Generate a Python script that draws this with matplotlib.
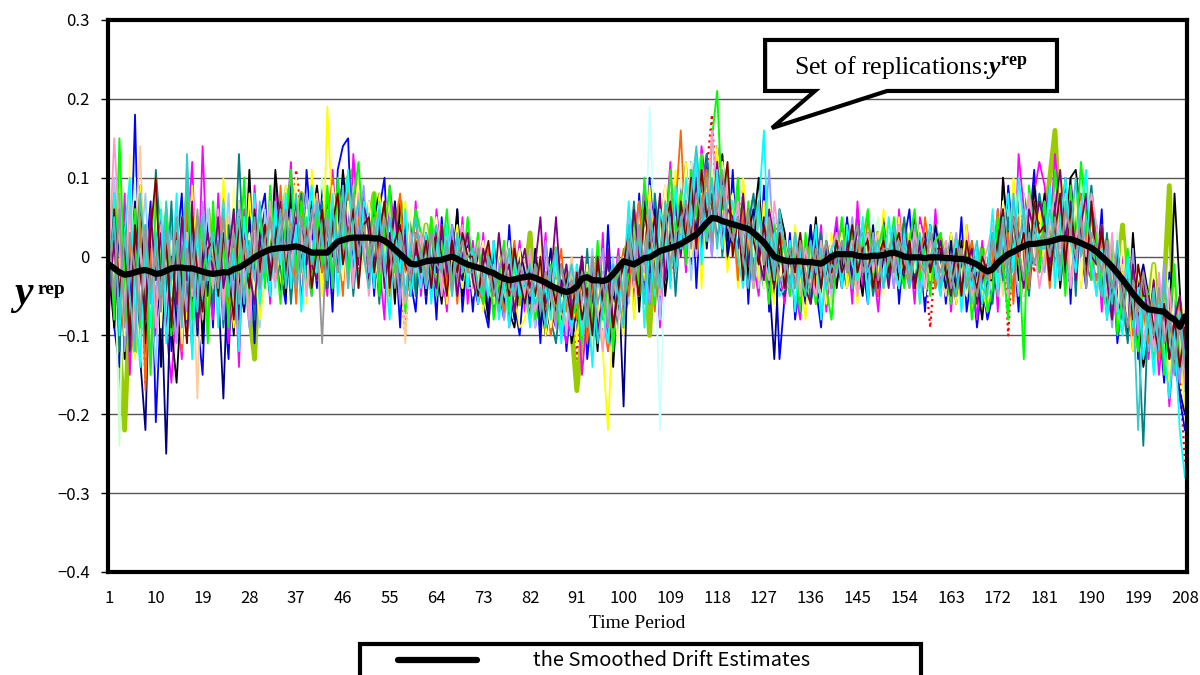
import numpy as np
import matplotlib.pyplot as plt
from matplotlib.lines import Line2D
from matplotlib.patches import Polygon, Rectangle

plt.rcParams['font.family'] = ['Noto Sans CJK JP', 'DejaVu Sans']
plt.rcParams['mathtext.fontset'] = 'custom'
plt.rcParams['mathtext.rm'] = 'Liberation Serif'
plt.rcParams['mathtext.it'] = 'Liberation Serif:italic'
plt.rcParams['mathtext.bf'] = 'Liberation Serif:bold'
plt.rcParams['mathtext.bfit'] = 'Liberation Serif:italic:bold'

periods = np.arange(1, 209)
tick_periods = np.arange(1, 209, 9)

# smoothed drift estimates (x 1/1000)
drift_milli = [
    -10, -15, -20, -23, -22, -20, -18, -17, -19, -22,
    -21, -18, -15, -14, -14, -15, -15, -17, -19, -21,
    -22, -21, -20, -20, -16, -14, -10, -6, -1, 3,
    6, 9, 10, 11, 11, 12, 13, 11, 8, 5,
    5, 5, 5, 12, 19, 21, 23, 24, 24, 24,
    24, 23, 23, 20, 15, 9, 3, -3, -9, -10,
    -8, -6, -5, -5, -4, -2, 0, -3, -7, -10,
    -12, -14, -16, -19, -21, -25, -28, -30, -29, -27,
    -26, -25, -27, -30, -33, -37, -40, -43, -45, -43,
    -38, -28, -26, -30, -30, -31, -29, -22, -14, -6,
    -8, -10, -6, -2, -1, 3, 7, 9, 11, 13,
    16, 20, 24, 28, 35, 43, 49, 48, 45, 43,
    41, 39, 37, 35, 30, 24, 18, 9, 0, -3,
    -5, -6, -6, -6, -7, -7, -8, -9, -5, 0,
    3, 3, 3, 3, 1, 0, 0, 1, 1, 2,
    4, 5, 3, 0, -1, -1, -1, -2, -1, -1,
    -1, -2, -2, -3, -3, -4, -7, -10, -15, -19,
    -16, -8, -2, 3, 6, 10, 13, 16, 16, 17,
    18, 19, 21, 23, 23, 22, 20, 17, 14, 11,
    6, 0, -6, -13, -21, -29, -38, -47, -55, -62,
    -67, -68, -69, -70, -76, -80, -89, -76,
]

# replications y_rep (x 1/100), one string per series, periods 1..208
rep_blue = """
3 -9 -14 6 -5 18 -10 -1 7 -21  -6 5 -12 1 8 -10 4 -8 -15 5  -9 6 -5 -13 4 7 -7 3 -11 5  8 -4 10 -2 -6 9 2 -5 11 3  -4 9 4 -7 11 14 15 -3 7 -1
7 -5 6 10 -4 2 -9 5 -3 -7  3 -6 2 -8 5 -3 -4 6 -7 1  -7 2 -6 -9 1 -4 -8 4 -6 -10  -2 -8 -1 -11 2 -7 -9 -1 -12 -5  -10 0 -13 -6 -1 -11 4 -8 0 -9
6 -6 8 -4 10 2 -8 5 9 -2  9 0 12 -4 8 13 1 14 9 -1  11 -3 8 -6 6 -4 9 -7 3 -13  -5 3 -8 -2 -6 4 -4 -9 2 -5  4 -4 5 -3 6 -1 -6 3 -5 5
-3 4 -6 2 6 -4 1 -7 4 -2  2 -6 1 -4 5 -7 -2 -9 -3 -8  -5 6 -4 9 2 -7 8 3 11 -1  7 -3 9 3 10 -6 8 1 -4 5  -2 6 -8 1 -11 -5 -9 2 -13 -7  -5 -13 -8 -16 -2 -12 -18 -22
"""
rep_magenta = """
-7 5 -11 8 -15 -1 7 -12 3 -10  5 -9 -16 -5 -13 2 12 -7 14 -3  -8 8 -3 -11 2 -14 6 -5 9 -2  5 -6 9 -2 3 12 -4 7 -1 -5  9 -1 -5 11 2 7 -4 13 4 8
-3 6 -1 -8 9 3 -6 2 -4 7  -5 2 -4 6 -1 -7 3 -3 5 -6  2 -6 3 -8 -2 -7 0 -9 -4 2  -7 -1 -9 -4 3 -10 -3 -8 -11 -5  -3 -15 -7 0 -10 3 -12 -5 1 -8
5 -7 2 9 -4 7 -9 3 12 0  7 -2 11 5 14 8 0 12 3 9  2 8 -3 6 -1 -5 7 -4 4 -2  -6 1 -4 -8 2 -5 -2 4 -7 0  5 -3 2 -6 7 -4 3 -1 -7 2
3 -4 6 -2 1 -6 5 2 -4 6  -4 2 -7 1 -5 4 -2 -8 2 -6  3 -7 10 1 -5 13 6 -3 8 12  9 2 13 6 -4 10 3 8 -1 -3  4 -7 2 -4 -9 0 -6 -12 -8 -3  -13 -5 -15 -8 -19 -10 -16 -7
"""
rep_yellow = """
7 -4 12 -9 4 -13 9 0 -7 10  -5 7 -2 -11 5 -8 9 -4 2 -9  5 -6 10 -2 -9 4 -4 8 -1 -8  -3 7 2 -5 9 0 -4 6 -6 11  3 -5 19 5 -1 8 -4 4 10 0
6 -3 8 2 -6 4 -2 7 -5 2  2 -5 5 -3 3 -6 0 4 -4 2  -4 2 -7 1 -6 3 -8 -2 -5 -9  -8 -2 -6 1 -10 -4 -1 -9 -6 -2  -11 -3 -9 0 -6 -12 -22 -7 -1 -10
3 -8 6 -3 9 0 -5 7 2 11  3 12 0 8 -4 10 4 14 6 -2  6 -4 10 1 4 -3 7 -1 -6 3  1 -5 4 -3 -8 2 -4 1 -6 3  -2 4 -4 2 -6 5 -1 3 -3 6
2 -3 5 -4 3 -1 -6 2 -3 4  1 -4 3 -6 -2 4 -7 0 -4 -7  2 -5 7 -1 10 4 -4 8 1 6  -2 7 2 11 5 -1 9 -4 6 1  -4 3 -7 2 -9 -2 -5 -12 -3 -9  -6 -13 -4 -11 -16 -8 -12 -19
"""
rep_cyan = """
-4 8 -10 3 10 -6 -14 4 -9 2  6 -11 -3 8 -8 2 -13 4 -6 -1  3 -9 7 -5 1 -12 5 -2 8 -6  2 -5 6 -1 8 -4 4 -7 3 9  -2 6 -1 8 -5 3 11 1 -4 7
5 -4 7 -1 -8 3 -2 6 -5 0  -4 3 -6 2 -2 4 -5 1 3 -4  1 -6 -1 -5 2 -8 -3 -9 0 -5  -3 -9 -1 -6 -4 -8 1 -11 -4 -9  -1 -10 -4 -14 -2 -7 -11 -1 -6 -3
7 -3 4 -9 2 -5 6 3 -4 9  1 10 4 13 -1 8 3 11 1 7  7 0 -4 4 -3 6 16 -2 3 -5  -4 2 -7 1 -5 -2 4 -8 -1 1  2 -4 4 -1 -3 5 -6 2 0 -4
5 -1 -4 3 -3 2 -6 0 4 -2  -5 1 -4 2 -7 -1 -4 1 -6 -2  6 -4 3 8 -2 10 4 -1 7 2  1 9 -4 4 10 2 -2 6 11 -1  -5 1 -8 -3 -6 -10 0 -9 -4 -13  -7 -15 -6 -12 -18 -9 -22 -28
"""
rep_green = """
4 -8 15 -3 -12 6 -9 2 -15 8  -1 6 -10 3 -5 11 -8 0 5 -11  7 -4 2 -9 6 -2 10 -5 0 6  -4 9 1 -6 4 11 -2 7 3 -5  6 -1 9 -4 10 4 -2 7 12 2
0 8 -5 3 9 -2 4 -7 1 6  3 -3 5 -5 0 6 -4 2 -2 5  -2 3 -6 0 -8 -3 2 -7 -1 -5  -5 1 -8 -3 -9 -1 -6 -10 -4 -8  -6 -11 -2 -9 2 -8 -4 -12 0 -6
-2 6 -5 10 2 -6 7 1 11 3  8 -1 11 5 13 2 15 21 6 11  3 10 -2 7 -4 6 0 -6 4 -1  2 -5 1 -7 3 -2 -6 2 -4 -8  0 5 -2 4 -4 2 6 -3 1 4
-2 5 -1 -4 2 6 -3 1 -5 2  3 -2 -6 2 -4 1 -8 -3 1 -7  -4 5 -1 -8 6 1 -13 9 3 -2  7 -1 11 4 -5 9 1 12 5 -3  3 -4 -7 2 -10 -5 1 -8 -12 -3  -5 -13 -3 -15 -8 -1 -14 -9
"""
rep_black = """
-2 -9 6 -13 2 -6 9 -11 -3 7  -14 3 -9 -16 -4 2 -7 5 -11 1  3 -6 8 -2 -10 4 -4 11 -5 2  6 -2 11 3 -5 8 -1 6 -4 4  9 2 -4 7 1 11 4 -3 8 2
-4 5 8 -2 3 -6 7 1 -5 3  2 -4 5 -1 -6 3 -2 6 -5 0  -5 1 -3 -8 2 -5 -1 -7 -9 -3  -3 -8 1 -5 -10 -6 0 -9 -2 -11  -7 0 -9 -4 -12 -2 -5 -14 -3 -9
-4 5 -7 3 8 -2 6 -5 1 7  2 11 -1 8 0 12 3 9 13 2  7 0 8 -3 4 10 -2 3 -5 6  3 -4 2 -7 0 -2 5 -5 -2 2  -4 2 -2 4 -1 -5 3 -2 2 -4
0 4 -4 2 -2 5 0 -4 2 -2  2 -4 0 -6 2 -5 -1 -3 -8 -1  -1 -5 10 2 7 -3 5 0 9 3  8 0 6 -4 3 10 11 5 -1 7  -2 4 -5 1 -8 -2 -10 3 -6 -14  -10 -3 -12 -6 -9 8 -4 -17
"""
rep_olive = """
2 -5 -11 -22 -6 -12 6 -7 1 -4  5 -7 3 -9 -1 7 -5 2 -4 6  -2 5 -4 -7 3 -4 2 -7 -13 1  4 -2 6 1 7 9 2 8 4 -1  6 2 8 3 7 0 10 11 5 2
4 8 0 5 -3 2 7 -1 4 -4  0 4 -3 3 -5 1 -1 3 -4 2  -1 -5 1 -3 -6 -1 -5 1 -3 -6  -3 3 -6 -1 -5 -7 1 -6 -2 -9  -17 -10 -4 -7 0 -6 -2 -9 -4 0
2 -4 5 0 -10 3 -2 6 1 5  7 1 9 4 11 3 8 12 6 1  6 0 5 -2 7 2 -3 5 -1 3  -2 1 -4 2 -5 0 -3 -4 1 -2  2 -2 4 -1 -4 2 0 -3 3 -1
0 2 -3 4 -1 -3 2 -4 1 3  -2 1 -5 2 -3 0 -5 -2 1 -4  2 -4 5 -1 6 3 -3 7 4 1  5 10 16 3 8 1 7 0 5 4  0 -4 2 -6 -2 4 -5 -1 -8 -3  -6 -1 -9 -4 9 -11 -6 -13
"""
rep_teal = """
-5 6 -12 1 8 -3 -10 4 -7 11  2 -5 7 -9 3 -2 -12 5 -3 0  -6 2 -9 4 -3 13 -2 6 -8 3  0 -5 7 -2 4 -6 3 8 -3 6  1 7 -4 4 9 -1 5 -5 3 8
-2 3 -6 5 -1 7 -4 1 5 -5  3 -2 2 -5 3 -1 -4 4 -2 -4  -3 2 -5 -1 -7 1 -3 -8 -5 0  -6 -1 -5 -9 -2 -8 -11 -4 -1 -7  -4 -9 1 -10 -2 -6 0 -11 -7 -2
-1 7 -4 4 -6 8 1 -3 6 -5  5 12 1 9 3 13 6 10 0 8  2 7 -3 4 8 0 -4 6 -1 4  -5 -1 2 -4 1 -6 -2 3 -5 0  3 -1 -4 2 4 -2 1 -5 0 3
-3 2 -1 5 -2 3 -2 0 3 -4  0 -2 3 -4 1 -5 2 -3 -6 -3  -6 2 -3 5 -2 7 0 -5 3 8  4 9 -2 5 1 8 -5 7 2 9  1 -5 3 -8 -1 -6 -11 -2 -9 -24  -6 -12 -3 -14 -9 -4 -15 -10
"""
rep_orange = """
0 8 -5 -10 3 -7 5 -17 1 -6  -3 5 -9 2 -12 7 -1 -6 3 -10  5 -2 7 -6 1 -10 3 -4 6 -5  2 6 -3 9 -1 4 -6 7 2 -2  7 -2 4 10 2 -5 8 1 5 -1
5 -3 2 7 -5 3 8 -2 0 5  -2 3 -5 1 4 -4 2 -6 3 -2  1 -4 -6 1 -5 -2 -7 -3 2 -5  -4 -8 -1 -6 -2 -10 -4 1 -7 -3  -8 -2 -11 -4 0 -7 -12 -2 -6 1
-5 3 7 -2 5 -7 3 9 -3 6  16 2 9 0 7 11 2 8 12 4  5 -3 6 1 -4 7 -1 4 -3 3  1 -4 3 -5 -1 2 -6 0 -3 -2  -2 4 -1 -4 2 -2 5 0 -5 2
2 -2 4 -1 -4 2 -3 5 0 -4  3 -1 -2 -5 1 -4 2 -6 -2 -5  0 6 -2 3 -6 5 1 -4 7 0  3 -4 6 9 1 5 -2 8 2 7  -3 2 -5 -8 1 -6 -2 -10 -4 -7  -11 -4 -13 -7 -9 -15 -5 -12
"""
rep_lightgreen = """
-6 4 -24 7 -2 10 -9 4 -13 -4  7 -4 -10 5 -7 1 8 -8 2 -5  1 6 -5 3 -8 2 -4 8 -2 5  3 -2 6 -5 2 8 -1 -4 5 9  4 10 1 6 -4 8 2 -1 9 4
1 6 -3 5 -1 -5 3 7 -4 2  -3 1 3 -2 -5 2 4 -4 0 3  1 -4 2 -6 -2 -5 -3 2 -7 -1  -1 -7 -3 -8 -4 1 -9 -2 -6 -5  -6 -1 -8 -3 -10 -4 0 -9 -3 -5
3 -4 6 1 -3 8 4 -4 9 2  10 4 12 1 8 3 11 5 13 7  0 6 2 -3 5 -1 7 2 -4 4  -2 2 -5 1 -4 -6 1 -2 3 -4  2 -4 0 4 -2 1 -4 2 5 -2
0 4 -2 2 -4 1 4 -2 2 -1  -3 1 2 -2 -5 1 -4 -1 -5 0  3 -2 6 1 -4 4 8 -2 3 6  4 -1 9 2 6 -3 7 2 10 0  2 -4 -1 -6 3 -5 -9 -3 -7 -1  -10 -5 -12 -8 -3 -14 -10 -16
"""
rep_lightyellow = """
9 -2 4 -10 13 -5 -12 3 -8 6  -9 2 -5 7 -11 3 -1 -7 5 -3  2 -8 5 -3 9 -6 0 3 -5 7  -3 5 0 7 -2 3 10 -5 6 1  0 6 -2 9 4 -3 7 2 10 -2
7 1 -4 5 8 -2 3 -5 6 0  2 -4 1 5 -2 3 -5 2 -2 1  -5 -1 2 -4 -6 1 -2 -5 -3 1  -6 -2 -8 2 -5 -9 -3 -6 -1 -8  -2 -8 -1 -12 -4 -9 -2 -6 -11 0
-2 5 -5 3 7 -4 2 9 -1 5  4 11 0 7 13 2 9 1 12 6  8 2 -3 6 0 4 -4 7 1 -3  2 -2 -5 2 -1 -4 1 -6 -1 2  -1 3 -2 2 -4 4 -1 -2 2 -5
3 -1 -4 2 0 -2 4 -5 1 2  -2 2 -4 1 -2 -5 0 -1 -4 -6  4 -4 7 -2 3 9 -5 6 0 4  1 6 -4 9 4 -1 7 -3 11 3  -2 4 -4 1 -7 2 -8 -5 -1 -6  -8 -1 -11 -6 -14 -4 -9 -13
"""
rep_paleblue = """
-4 10 1 -8 5 -11 0 8 -5 -14  3 -8 6 -4 -10 2 5 -9 -1 6  -5 3 -2 8 -7 1 5 -4 2 -9  6 0 -4 5 9 -2 3 6 -5 2  -3 5 8 -1 6 3 -2 9 1 4
3 -3 5 -1 -6 6 1 -4 3 -2  0 2 -4 3 -3 -5 2 -1 -4 3  -2 -5 1 -4 2 -7 -3 0 -6 -2  -2 -5 -9 0 -6 -3 -8 -4 -10 -1  -4 -11 -5 1 -9 -2 -7 0 -10 -3
-6 2 -4 6 -2 5 -8 3 0 6  1 8 -3 6 10 2 7 12 3 9  6 -3 4 1 7 -4 3 -1 5 -2  -4 1 -6 2 -2 -5 1 -3 2 -5  3 -2 2 -4 0 3 -2 2 -4 1
-2 2 0 -4 3 -2 2 -1 -3 4  2 -4 0 -2 -5 2 -3 0 -2 -6  -2 3 -1 6 1 -5 4 7 -1 3  7 0 4 -3 8 2 5 -1 3 9  3 -2 1 -5 0 -8 -3 -6 -9 -3  -6 -11 -3 -9 -14 -6 -12 -17
"""
rep_lavender = """
5 -6 8 -12 -3 6 -10 1 -14 -4  -1 6 -3 -11 4 -7 2 -5 7 -1  -4 5 -8 2 -5 6 -1 -9 3 0  3 -4 7 1 -2 6 -5 3 8 -1  4 -1 6 -4 8 1 7 -3 4 9
-2 5 0 6 -4 2 -6 3 -1 5  3 -2 1 -5 2 -2 4 -4 0 2  -1 -6 -3 1 -5 -1 -8 -3 1 -4  -5 -8 -2 -6 2 -5 -9 -1 -6 -10  -1 -6 -3 -10 -4 1 -7 -10 -2 -6
4 -2 7 0 -6 3 6 -2 5 1  7 1 5 11 3 8 0 12 4 9  2 8 0 4 -3 6 2 11 -1 4  -2 -5 0 3 -4 -1 2 -6 0 -3  1 2 -2 5 -2 0 -4 3 -1 2
2 -4 2 -1 -2 4 -4 2 -2 0  -4 1 -2 3 -4 -1 -6 0 -3 -2  1 -5 3 -2 7 -1 4 -4 6 1  -2 5 1 8 2 -4 6 -1 7 3  -5 1 -3 -9 -1 -4 -7 1 -10 -4  -12 -5 -9 -1 -13 -7 -16 -9
"""
rep_lightcyan = """
-2 3 -9 6 -4 11 -7 -1 5 -10  6 -5 2 -9 8 -3 -6 3 -1 7  -6 2 5 -3 1 -8 6 -2 3 -5  4 1 -5 6 -1 3 -4 7 1 -2  2 -4 6 2 9 -2 4 10 -1 6
3 7 -4 2 4 -5 0 6 -2 3  -2 4 -1 -4 3 0 -5 2 3 -2  2 -1 -5 -2 -4 2 -6 -1 -5 1  -3 -6 1 -5 -8 -2 -5 -9 -3 -6  -8 -2 -10 -5 0 -11 -4 -7 -1 -9
2 -3 8 -5 19 3 -22 0 6 -4  3 10 1 7 8 4 12 0 6 11  4 -1 7 2 -3 5 1 8 -4 3  0 -4 2 -2 -5 1 3 -3 -4 1  -2 2 -4 1 4 -2 0 5 -3 0
2 -1 4 -3 0 2 -5 1 5 -2  1 -4 -2 2 -4 0 -5 -2 1 -4  4 1 -4 6 2 -3 7 4 -1 8  2 7 0 4 -4 6 1 8 2 -1  -3 2 -6 -1 -5 1 -8 -4 -10 -2  -7 -13 -4 -10 -7 -15 -8 -14
"""
rep_peach = """
3 -5 7 -4 -9 1 14 -7 -12 0  -7 3 -2 6 -5 -10 2 -18 5 -3  3 -7 0 5 -4 7 -2 -5 2 6  -2 5 1 -4 7 -1 4 -3 3 6  6 1 -3 7 2 10 -1 4 -4 7
0 5 -2 3 7 -4 1 -11 4 -1  2 -4 3 -1 -5 2 -2 4 -1 -4  -4 1 -6 -1 -3 2 -5 -7 -1 -3  -1 -5 -7 -2 1 -6 -3 -9 -4 0  -6 -9 0 -7 -3 -11 -1 -5 -8 -2
0 5 -4 6 1 -5 3 7 -2 5  8 2 10 1 6 12 3 9 2 8  0 7 2 -3 5 -1 6 -4 1 4  -4 2 -2 -5 1 2 -4 -1 1 -6  2 -1 -3 4 -4 2 -2 1 3 -2
0 -3 2 4 -2 1 2 -4 0 4  -2 -5 1 -2 2 -4 -1 -5 0 -3  0 3 -5 5 -1 7 -4 3 6 -2  6 2 -3 4 7 0 8 -4 4 6  1 -5 2 -3 -7 -1 -6 3 -9 -4  -9 -3 -8 -12 -5 -11 -14 -7
"""
rep_pink = """
0 15 3 -7 8 -11 1 -4 5 -9  4 -6 -1 7 -9 3 -5 1 -8 2  -4 6 -6 1 4 -5 0 -8 3 -2  0 7 -3 4 1 -2 6 3 -5 4  8 2 -2 6 0 7 4 -4 8 2
-5 3 6 -1 -3 4 1 -6 3 -2  3 -1 -4 2 -5 3 0 -2 4 -4  -4 2 0 -5 -1 -6 1 -3 -7 -1  -5 1 -7 -3 -8 -4 0 -7 -9 -2  -2 -9 -4 0 -7 -12 -5 -1 -8 -3
6 -4 3 -2 7 4 -5 1 8 -2  2 9 6 0 11 4 16 7 1 10  1 7 -1 4 -4 6 0 -3 7 2  -3 -4 2 -5 1 -2 -5 2 -4 1  3 -2 0 2 -5 1 3 -2 2 -4
1 -2 4 -1 -3 3 0 -4 2 -1  -5 2 -2 0 -4 2 -5 -3 -1 1  4 -1 3 -5 6 1 -3 8 2 -4  0 4 8 1 6 -4 2 7 0 8  4 -1 -5 3 -7 -3 -1 -8 -4 -11  -6 -12 -2 -10 -4 -13 -7 -16
"""
rep_purple = """
-5 2 -9 4 -12 3 -2 -7 6 -3  3 -10 0 -6 5 -3 7 -9 -1 3  -2 5 -4 0 6 -8 3 -2 -6 2  4 -2 3 7 -4 1 5 -6 3 -1  -3 6 1 5 -2 9 2 6 -1 7
3 -1 5 -4 2 6 -2 3 -5 1  -2 3 -1 -4 4 -2 2 -5 0 3  -3 -6 1 -2 -5 3 -3 -1 -7 -2  1 -4 -1 5 -6 -3 5 -5 -1 -7  -4 0 -7 -2 -10 -5 1 -9 -3 -1
-2 6 0 -5 4 1 8 -3 3 7  0 7 2 10 1 8 4 12 2 6  5 1 8 -1 4 0 -3 6 2 -4  -5 1 -2 2 -4 -6 2 -2 0 -4  0 -4 2 -2 4 -1 -2 2 -4 1
-4 2 -2 3 0 -4 2 -2 4 -1  2 -2 -5 1 -4 -1 1 -6 -3 -1  3 -2 6 -1 5 1 -4 6 3 7  4 -1 6 11 2 7 -3 4 8 0  -1 4 -3 -8 1 -5 -9 -1 -6 -2  -9 -3 -11 -6 -13 -8 -5 -12
"""
rep_navy = """
2 -6 4 -10 -3 7 -13 -22 3 -8  -4 -25 -1 -9 3 -6 2 -10 1 -5  3 -4 -18 1 6 -3 -7 5 -2 3  -3 6 1 -5 3 8 -2 5 -1 7  3 -2 7 0 4 10 -3 6 2 -1
6 -4 2 5 -2 7 -1 -5 3 1  0 -5 2 -2 3 -4 4 -1 -3 2  -5 1 -3 -7 1 -2 -6 -3 -8 1  -2 -6 0 -9 -4 1 -7 -3 -6 -10  -7 -3 -11 -1 -9 -5 0 -6 -2 -19
4 -4 2 7 -2 6 -5 3 8 -1  7 0 8 3 11 1 9 5 12 0  4 8 -1 3 6 0 5 -3 -13 1  -3 2 -5 1 -2 4 -4 -6 1 -2  2 -2 4 -4 1 2 -3 4 -5 0
-2 4 0 -3 2 -4 1 3 -2 4  0 -4 2 -5 -1 1 -4 -2 -6 -3  -3 5 1 -2 6 3 -5 4 1 -2  6 1 7 3 -2 9 4 -1 6 2  -3 1 -6 2 -5 -8 -2 -9 -4 -1  -5 -11 -6 -13 -8 -14 -17 -20
"""
rep_red = """
-2 6 -9 2 -12 -4 5 -16 -1 4  -7 2 -4 -11 3 -8 1 -5 4 -3  2 -5 6 -2 -7 3 -3 5 -8 1  3 -2 7 1 -1 4 11 5 0 3  4 -1 6 -3 7 1 8 2 -2 5
1 4 -3 3 0 5 -2 -10 3 -1  -2 2 -5 1 3 -3 2 -2 0 3  -3 -1 2 -5 0 -3 -6 -1 -5 1  -4 -1 -6 -2 -7 1 -4 -8 -2 -6  -13 -3 -8 0 -5 -9 -2 -7 -3 -8
3 -2 6 1 -5 4 0 7 -3 3  5 9 2 8 3 11 18 5 10 2  7 1 9 0 5 -2 4 -2 3 5  -2 2 -4 0 -5 -1 3 -3 0 2  0 -2 3 -1 -4 2 -2 3 0 -2
2 -1 -2 3 -2 0 2 -2 -9 0  -2 2 -4 0 -5 -1 1 -4 -2 -5  2 -4 4 -10 3 -1 7 2 -2 5  3 7 -1 5 1 -4 4 8 2 -1  -3 2 -5 1 -7 -3 -6 0 -9 -4  -6 -11 -4 -12 -7 -9 -15 -26
"""
rep_turquoise = """
-2 5 -8 3 -5 -12 8 0 -6 3  -5 7 -3 2 -9 13 -2 -7 5 -3  3 -2 6 -5 0 5 -6 2 -3 7  -2 5 0 6 -4 3 8 -2 5 -1  7 2 -3 6 1 9 -4 4 7 0
-4 2 6 -2 5 -1 3 -5 1 5  0 -4 2 4 -2 1 -5 3 -2 0  1 -4 -5 0 -2 -7 -3 1 -5 -1  -3 -1 -6 -4 -9 -2 1 -7 -4 -1  -6 -2 -9 0 -11 -6 -3 -1 -5 -9
4 -3 3 -6 6 1 -4 7 4 -2  5 1 8 14 6 2 10 1 9 4  2 5 0 -4 4 7 -1 3 -3 6  1 -4 3 -2 -5 2 -2 1 -4 -1  -2 2 0 -4 2 3 -2 0 2 -4
0 4 -2 2 -4 0 3 -2 0 2  -4 1 -2 -5 0 -3 -1 2 -4 -5  3 -1 5 -4 8 1 6 -2 4 1  1 6 2 -3 7 3 10 0 5 2  0 -5 -1 -6 2 -8 -3 -5 -22 -6  -9 -4 -12 -3 -10 -15 -7 -13
"""
rep_gray = """
2 -5 6 -9 3 -2 -8 4 -4 0  -7 3 -2 5 -8 1 -4 6 -5 -1  0 -4 5 -2 3 -6 2 -2 5 -4  2 5 -2 3 6 -1 -4 5 1 6  3 -11 5 1 -2 6 2 8 0 4
-1 4 -2 5 1 -4 3 0 -3 3  1 -3 3 -1 -2 2 -4 0 2 -2  -2 1 -4 -1 -5 -2 1 -4 -5 -1  -3 -5 -1 -7 -2 -4 -8 -1 -5 -3  -5 -2 -8 0 -6 -3 -9 -4 0 -6
2 -3 4 -1 5 -4 1 6 -1 3  4 7 1 8 5 10 2 6 11 4  2 5 0 6 -3 3 -1 5 1 -3  -2 1 -4 2 -2 -4 1 -2 2 -4  0 2 -2 1 4 -2 0 2 -3 1
1 -2 2 0 -3 2 -1 -2 3 0  -2 1 -4 -1 1 -4 -2 -5 -1 -3  2 -2 4 -1 5 1 -3 3 -1 2  3 0 5 -1 6 3 0 5 -4 3  1 -2 2 -4 -2 -5 -9 -3 -7 -2  -6 -10 -4 -11 -7 -13 -9 -14
"""
rep_darkred = """
-3 6 -5 2 -10 4 -2 -8 3 10  -5 2 -9 3 -3 -11 5 -2 -7 1  2 -5 3 -2 -8 5 0 -4 6 -2  4 -3 2 6 -2 3 7 -1 4 -4  1 6 -2 4 8 -1 3 6 -4 4
5 -2 3 7 -4 2 4 -1 -3 2  -2 2 -4 3 0 -5 2 -2 3 0  0 -5 -1 2 -4 -6 -1 -5 1 -3  -6 -2 -5 0 -8 -3 -6 -1 -4 -8  -2 -8 -4 -10 0 -6 -3 -9 -4 -1
3 -1 -5 6 1 5 -2 3 7 -1  7 2 10 1 11 5 8 2 7 12  0 5 -3 6 2 -1 4 0 -4 3  -4 1 -2 3 -5 -1 1 -4 2 -2  2 -2 0 4 -2 1 2 -4 0 2
-2 1 3 -2 2 -4 0 2 -2 1  1 -2 -4 1 -5 2 -2 -4 0 -2  -2 2 6 -4 5 0 3 -2 7 3  4 -3 3 8 -1 6 1 4 -3 7  -1 3 -2 -5 1 -7 -3 -8 -1 -5  -5 -9 -12 -6 -13 -8 -14 -9
"""

# drawing order and look of each replication (light and dark colours interleaved)
rep_styles = [
    (rep_red, "#FF0000", 1.6, ":"),
    (rep_olive, "#99CC00", 3.5, "-"),
    (rep_lightcyan, "#CCFFFF", 1.3, "-"),
    (rep_blue, "#0000FF", 1.3, "-"),
    (rep_lightgreen, "#CCFFCC", 1.3, "-"),
    (rep_magenta, "#FF00FF", 1.3, "-"),
    (rep_peach, "#FFCC99", 1.3, "-"),
    (rep_black, "#000000", 1.3, "-"),
    (rep_paleblue, "#99CCFF", 1.3, "-"),
    (rep_teal, "#008080", 1.3, "-"),
    (rep_yellow, "#FFFF00", 1.3, "-"),
    (rep_navy, "#000080", 1.3, "-"),
    (rep_lavender, "#9999FF", 1.3, "-"),
    (rep_orange, "#FF6600", 1.3, "-"),
    (rep_lightyellow, "#FFFF99", 1.3, "-"),
    (rep_green, "#00FF00", 1.4, "-"),
    (rep_pink, "#FF99CC", 1.3, "-"),
    (rep_purple, "#800080", 1.3, "-"),
    (rep_cyan, "#00FFFF", 1.3, "-"),
    (rep_darkred, "#800000", 1.3, "-"),
    (rep_turquoise, "#33CCCC", 1.3, "-"),
    (rep_gray, "#969696", 1.3, "-"),
]

bad = {}
for vals, c, lw, ls in rep_styles:
    n = len(vals.split())
    if n != len(periods):
        bad[c] = n
if bad:
    raise SystemExit("series length mismatch: %s" % bad)

fig = plt.figure(figsize=(12, 6.75), dpi=100)
ax = fig.add_axes([108 / 1200, 103 / 675, 1079 / 1200, 552 / 675])

for vals, c, lw, ls in rep_styles:
    y = np.array(vals.split(), dtype=float) / 100
    ax.plot(periods, y, color=c, lw=lw, ls=ls, zorder=2)

drift = np.array(drift_milli) / 1000
ax.plot(periods, drift, color="black", lw=4.5, solid_capstyle="round",
        solid_joinstyle="round", zorder=5)

ax.set_xlim(0.8, 208.4)
ax.set_ylim(-0.4, 0.3)
ax.set_xticks(tick_periods)
ax.set_xticklabels([str(p) for p in tick_periods])
yt = np.round(np.arange(-0.4, 0.31, 0.1), 1)
ax.set_yticks(yt)
ax.set_yticklabels(["0" if v == 0 else ("%.1f" % v).replace("-", "\u2212") for v in yt])
ax.set_axisbelow(True)
ax.grid(axis="y", color="#555555", lw=1.0)
for s in ax.spines.values():
    s.set_linewidth(3)
    s.set_color("black")
ax.tick_params(axis="y", length=5, width=1, direction="out", pad=8, labelsize=12)
ax.tick_params(axis="x", length=0, pad=13, labelsize=12)

fig.text(637 / 1200, 1 - 623 / 675, "Time Period", ha="center", va="center",
         family="Liberation Serif", size=14)

# y axis label
fig.text(23 / 1200, 1 - 304 / 675, "y", ha="center", va="baseline",
         family="Liberation Serif", weight="bold", style="italic", size=30)
fig.text(38 / 1200, 1 - 294 / 675, "rep", ha="left", va="baseline",
         family="Liberation Serif", weight="bold", size=14)

# callout pointing at the replications
callout = [(0.609, 0.8714), (0.609, 0.9638), (0.8795, 0.9638), (0.8795, 0.8714),
           (0.722, 0.8714), (0.6154, 0.8043), (0.6552, 0.8714)]
ax.add_patch(Polygon(callout, closed=True, transform=ax.transAxes, facecolor="white",
                     edgecolor="black", lw=3, joinstyle="miter", zorder=10, clip_on=False))
ax.text((0.609 + 0.8795) / 2, 0.902, r"Set of replications:$\mathbfit{y}^{\mathbf{rep}}$",
        transform=ax.transAxes, ha="center", va="baseline", family="Liberation Serif",
        size=18.5, zorder=11)

# legend box at the bottom
fig.patches.append(Rectangle((360 / 1200, -0.05), 561 / 1200, 0.05 + (675 - 644) / 675,
                             transform=fig.transFigure, facecolor="white",
                             edgecolor="black", lw=3, clip_on=False))
fig.lines.append(Line2D([398 / 1200, 477 / 1200], [15 / 675, 15 / 675],
                        transform=fig.transFigure, color="black", lw=4.5,
                        solid_capstyle="round"))
fig.text(672 / 1200, 15 / 675, "the Smoothed Drift Estimates", ha="center",
         va="center", size=14.5)

fig.savefig("out.png", dpi=100)
